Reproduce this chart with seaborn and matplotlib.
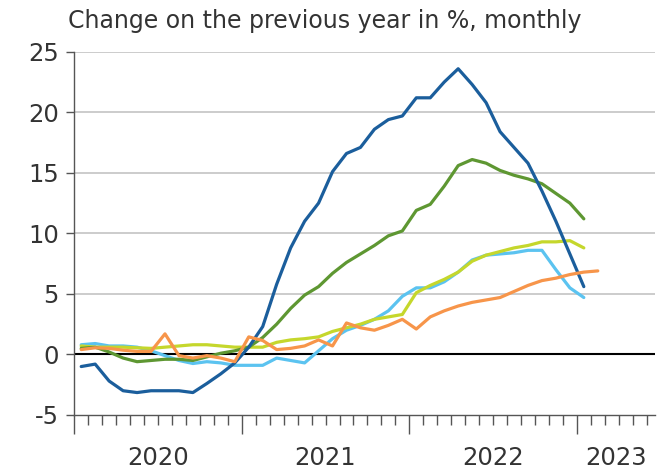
import numpy as np
import pandas as pd
import matplotlib.pyplot as plt
import seaborn as sns

# Monthly values, Jan 2020 onwards (change on the previous year in %)
months = pd.period_range("2020-01", "2023-02", freq="M")

dark_blue = [-1.0, -0.8, -2.2, -3.0, -3.15, -3.0, -3.0, -3.0, -3.15, -2.4, -1.6, -0.7,
             0.6, 2.3, 5.8, 8.8, 11.0, 12.5, 15.1, 16.6, 17.1, 18.6, 19.4, 19.7,
             21.2, 21.2, 22.5, 23.6, 22.3, 20.8, 18.4, 17.1, 15.8, 13.5, 11.0, 8.3, 5.6]

green = [0.5, 0.6, 0.2, -0.3, -0.6, -0.5, -0.4, -0.4, -0.5, -0.2, 0.1, 0.3,
         0.6, 1.4, 2.5, 3.8, 4.9, 5.6, 6.7, 7.6, 8.3, 9.0, 9.8, 10.2,
         11.9, 12.4, 13.9, 15.6, 16.1, 15.8, 15.2, 14.8, 14.5, 14.1, 13.3, 12.5, 11.2]

yellow_green = [0.7, 0.6, 0.6, 0.6, 0.55, 0.5, 0.6, 0.7, 0.8, 0.8, 0.7, 0.6,
                0.6, 0.6, 1.0, 1.2, 1.3, 1.45, 1.9, 2.2, 2.5, 2.9, 3.1, 3.3,
                5.1, 5.7, 6.2, 6.8, 7.7, 8.2, 8.5, 8.8, 9.0, 9.3, 9.3, 9.4, 8.8]

light_blue = [0.8, 0.9, 0.7, 0.7, 0.6, 0.3, -0.1, -0.5, -0.75, -0.6, -0.7, -0.9,
              -0.9, -0.9, -0.3, -0.5, -0.7, 0.3, 1.3, 2.0, 2.4, 2.9, 3.6, 4.8,
              5.5, 5.5, 6.0, 6.8, 7.8, 8.2, 8.3, 8.4, 8.6, 8.6, 7.0, 5.5, 4.7]

orange = [0.4, 0.55, 0.5, 0.35, 0.25, 0.25, 1.7, -0.1, -0.3, -0.1, -0.3, -0.6,
          1.45, 1.15, 0.4, 0.5, 0.7, 1.2, 0.7, 2.6, 2.2, 2.0, 2.4, 2.9,
          2.1, 3.1, 3.6, 4.0, 4.3, 4.5, 4.7, 5.2, 5.7, 6.1, 6.3, 6.6, 6.8, 6.9]

year_labels = ["2020", "2021", "2022", "2023"]
y_ticks = [-5, 0, 5, 10, 15, 20, 25]

series = {
    "light_blue": light_blue,
    "yellow_green": yellow_green,
    "green": green,
    "dark_blue": dark_blue,
    "orange": orange,
}
colors = {
    "light_blue": "#5BC3F0",
    "yellow_green": "#C5D72C",
    "green": "#5E9732",
    "dark_blue": "#1B5E9C",
    "orange": "#F7954A",
}

# long format, x = month index (points at mid-month)
frames = []
for name, vals in series.items():
    frames.append(pd.DataFrame({
        "month": months[:len(vals)].astype(str),
        "pos": np.arange(len(vals)) + 0.5,
        "value": vals,
        "series": name,
    }))
df = pd.concat(frames, ignore_index=True)

sns.set_theme(style="ticks")
plt.rcParams["font.family"] = ["DejaVu Sans"]
plt.rcParams["axes.unicode_minus"] = False

fig = plt.figure(figsize=(6.57, 4.71), dpi=100)
ax = fig.add_axes([0.113, 0.119, 0.884, 0.771])

# horizontal grid + zero line
for v in y_ticks[1:]:
    ax.axhline(v, color="#C8C8C8", lw=1.3, zorder=0)
ax.axhline(0, color="black", lw=1.5, zorder=1)

sns.lineplot(
    data=df,
    x="pos",
    y="value",
    hue="series",
    hue_order=list(series.keys()),
    palette=colors,
    linewidth=2.3,
    legend=False,
    ax=ax,
)

x_end = 41.6
ax.set_xlim(0, x_end)
ax.set_ylim(-5, 25)
ax.set_xlabel("")
ax.set_ylabel("")

ax.set_yticks(y_ticks)
ax.tick_params(axis="y", length=6, width=1, color="#555555",
               labelsize=17.5, labelcolor="#333333", pad=5)

ax.set_xticks([0, 12, 24, 36])
ax.set_xticks(np.arange(1, 42), minor=True)
ax.set_xticklabels([])
ax.tick_params(axis="x", which="major", length=14, width=1, color="#555555")
ax.tick_params(axis="x", which="minor", length=7, width=1, color="#555555")

# year labels centred in the (visible part of the) year interval
centers = [6, 18, 30, (36 + x_end) / 2]
for c, lab in zip(centers, year_labels):
    ax.text(c, -0.138, lab, transform=ax.get_xaxis_transform(),
            ha="center", va="baseline", fontsize=17.5, color="#333333")

sns.despine(ax=ax, top=True, right=True)
ax.spines["left"].set_color("#555555")
ax.spines["bottom"].set_color("#555555")
ax.spines["left"].set_linewidth(1)
ax.spines["bottom"].set_linewidth(1)

fig.text(0.1035, 0.9406, "Change on the previous year in %, monthly",
         ha="left", va="baseline", fontsize=17, color="#333333")

plt.savefig("out.png", dpi=100)
